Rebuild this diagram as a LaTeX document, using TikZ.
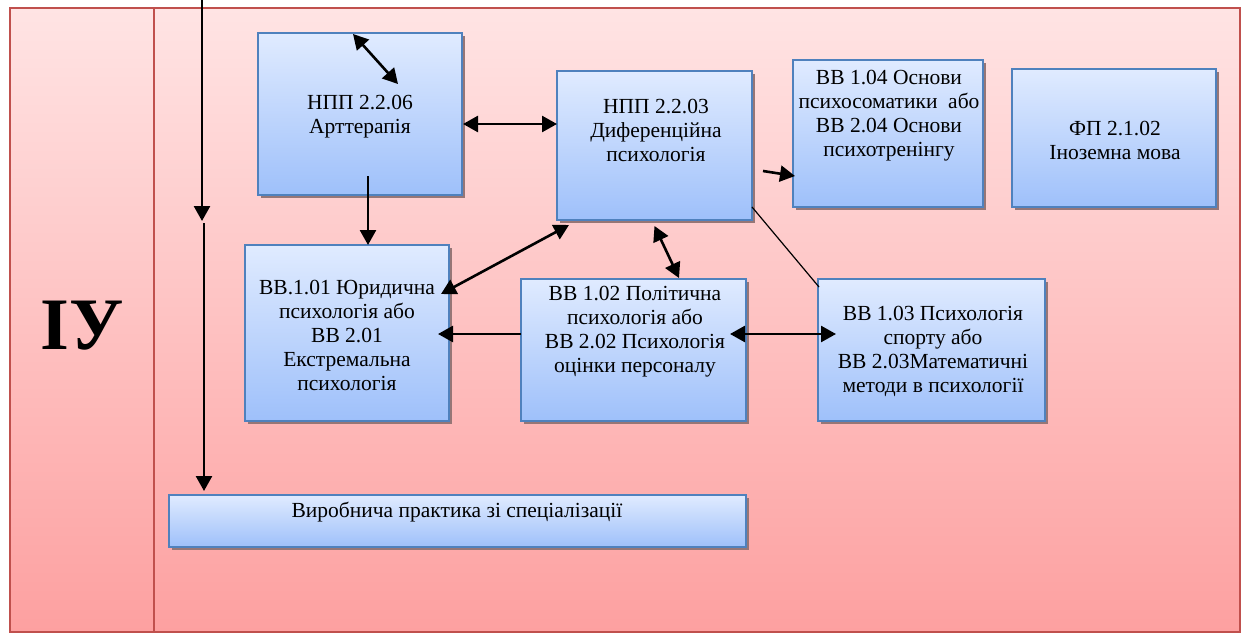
\documentclass[tikz,border=0pt]{standalone}
\usepackage{fontspec}
\setmainfont{Liberation Serif}
\newfontfamily\bigserif{Liberation Serif}
\usetikzlibrary{arrows.meta,calc,shadows}
\definecolor{pinktop}{RGB}{255,228,228}
\definecolor{pinkbot}{RGB}{253,160,160}
\definecolor{frameline}{RGB}{192,80,77}
\definecolor{boxtop}{RGB}{224,235,255}
\definecolor{boxbot}{RGB}{158,192,250}
\definecolor{boxline}{RGB}{79,129,189}
\definecolor{shadowc}{RGB}{150,118,118}
\tikzset{
  box/.style={draw=boxline, line width=1.4pt, top color=boxtop, bottom color=boxbot,
    rectangle, inner sep=0pt, outer sep=0pt, anchor=north west,
    general shadow={fill=shadowc, shadow xshift=3pt, shadow yshift=-3pt}},
  txt/.style={align=center, inner sep=0pt, font=\fontsize{21.5}{24}\selectfont},
  arr/.style={line width=2.6pt, -{Triangle[length=15pt,width=16pt]}},
  dbl/.style={line width=2.6pt, {Triangle[length=15pt,width=16pt]}-{Triangle[length=15pt,width=16pt]}},
  thin/.style={line width=1.2pt}
}
\begin{document}
\begin{tikzpicture}[x=1pt,y=-1pt]
\useasboundingbox (0,0) rectangle (1251,634);
% frame
\node[rectangle, draw=frameline, line width=1.3pt, top color=pinktop, bottom color=pinkbot,
  minimum width=1230pt, minimum height=624pt, inner sep=0pt, outer sep=0pt, anchor=north west]
  (frame) at (10,8) {};
\coordinate (divtop) at (154,8);
\coordinate (divbot) at (154,632);
\draw[frameline, line width=1.3pt] (divtop) -- (divbot);
\node[anchor=base, inner sep=0pt, font=\bigserif\fontsize{74}{80}\selectfont\bfseries] (iu) at (82,349) {ІУ};

% boxes
\node[box, minimum width=204pt, minimum height=162pt] (b1) at (258,33) {};
\node[box, minimum width=195pt, minimum height=149pt] (b2) at (557,71) {};
\node[box, minimum width=190pt, minimum height=147pt] (b3) at (793,60) {};
\node[box, minimum width=204pt, minimum height=138pt] (b4) at (1012,69) {};
\node[box, minimum width=204pt, minimum height=176pt] (b5) at (245,245) {};
\node[box, minimum width=225pt, minimum height=142pt] (b6) at (521,279) {};
\node[box, minimum width=227pt, minimum height=142pt] (b7) at (818,279) {};
\node[box, minimum width=577pt, minimum height=52pt] (b8) at (169,495) {};

% texts
\node[txt] (t1) at (360,116.5) {НПП 2.2.06\\Арттерапія};
\node[txt] (t2) at (656,130) {НПП 2.2.03\\Диференційна\\психологія};
\node[txt] (t3) at (889,116) {ВВ 1.04 Основи\\психосоматики~ або\\ВВ 2.04 Основи\\психотренінгу};
\node[txt] (t4) at (1115,140) {ФП 2.1.02\\Іноземна мова};
\node[txt] (t5) at (347,335) {ВВ.1.01 Юридична\\психологія або\\ВВ 2.01\\Екстремальна\\психологія};
\node[txt] (t6) at (635,332) {ВВ 1.02 Політична\\психологія або\\ВВ 2.02 Психологія\\оцінки персоналу};
\node[txt] (t7) at (933,351.5) {ВВ 1.03 Психологія\\спорту або\\ВВ 2.03Математичні\\методи в психології};
\node[txt] (t8) at (457,512.5) {Виробнича практика зі спеціалізації};

% connectors
\coordinate (vtop) at (202,0);
\coordinate (vmid) at (202,221);
\coordinate (vmid2) at (204,223);
\draw[arr] (vtop) -- (vmid);
\draw[arr] (vmid2) -- ($(b8.north west)+(35,-4)$);

\draw[dbl] ($(b1.north)+(-7,1)$) -- ($(b1.north)+(38,51)$);
\draw[dbl] ($(b1.east)+(1,10)$) -- ($(b2.west)+(0,-21.5)$);
\draw[arr] ($(b2.east)+(11,25.5)$) -- ($(b3.west)+(2,42.5)$);
\draw[thin] ($(b2.south east)+(0,-13)$) -- ($(b7.north west)+(1,8)$);
\draw[dbl] ($(b2.south)+(0,6)$) -- ($(b6.north)+(45.5,-1)$);
\draw[dbl] ($(b5.east)+(-8,-39)$) -- ($(b2.south west)+(12,5)$);
\draw[arr] ($(b6.west)+(0,-16)$) -- ($(b5.east)+(-11,1)$);
\draw[dbl] ($(b6.east)+(-16,-16)$) -- ($(b7.west)+(18,-16)$);
\draw[arr] ($(b1.south)+(8,-19)$) -- ($(b5.north)+(21,0)$);
\end{tikzpicture}
\end{document}
